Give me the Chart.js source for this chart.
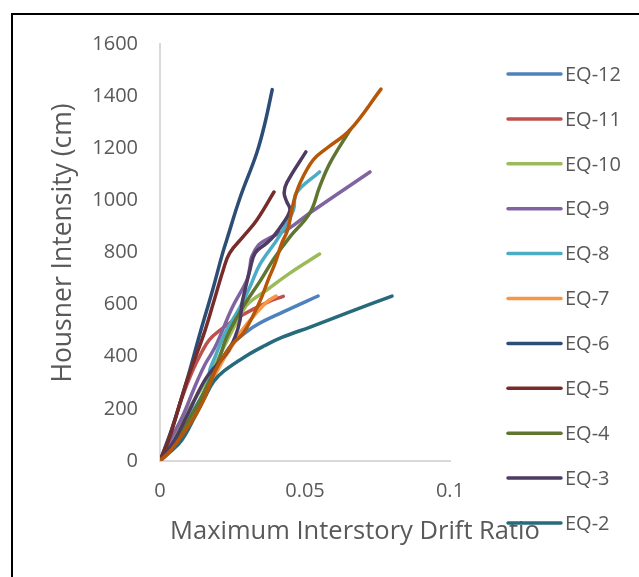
<!DOCTYPE html>
<html>
<head>
<meta charset="utf-8">
<script src="https://cdn.jsdelivr.net/npm/chart.js@4"></script>
<style>
	html, body { margin: 0; padding: 0; background: #fff; }
	#wrap { position: relative; width: 639px; height: 577px; overflow: hidden; }
	#frame { position: absolute; left: 11px; top: 13px; width: 700px; height: 700px;
		border-left: 2px solid #000; border-top: 2px solid #000; pointer-events: none; }
</style>
</head>
<body>
<div id="wrap">
	<canvas id="chart" width="639" height="577"></canvas>
	<div id="frame"></div>
</div>
<script>
(function() {
	'use strict';

	// Series: [drift ratio, Housner intensity (cm)]
	var EQ12 = [[0,0],[0.005,70],[0.01,160],[0.015,260],[0.019,340],[0.024,437],[0.0276,476],[0.0333,522],[0.0425,572],[0.0545,633]];
	var EQ11 = [[0,0],[0.004,120],[0.0075,240],[0.011,340],[0.0145,420],[0.017,465],[0.0205,500],[0.0276,555],[0.0368,608],[0.0425,632]];
	var EQ10 = [[0,0],[0.005,90],[0.01,200],[0.015,290],[0.019,370],[0.0235,470],[0.0287,579],[0.031,610],[0.0368,656],[0.0448,721],[0.055,794]];
	var EQ9  = [[0,0],[0.003,70],[0.0077,170],[0.012,285],[0.0155,370],[0.019,437],[0.025,591],[0.030,695],[0.031,745],[0.0316,783],[0.034,829],[0.0368,850],[0.0448,895],[0.0517,952],[0.0724,1109]];
	var EQ8  = [[0,0],[0.005,80],[0.01,170],[0.014,240],[0.0166,300],[0.0172,350],[0.019,400],[0.0224,490],[0.0276,591],[0.031,668],[0.0345,755],[0.041,860],[0.046,963],[0.047,1028],[0.055,1109]];
	var EQ7  = [[0,0],[0.005,70],[0.01,160],[0.015,250],[0.0185,320],[0.0218,388],[0.024,426],[0.0276,491],[0.032,552],[0.0368,610],[0.040,633]];
	var EQ6  = [[0,0],[0.004,120],[0.0093,310],[0.0138,490],[0.018,650],[0.0214,790],[0.023,848],[0.0276,1010],[0.0333,1180],[0.0362,1297],[0.0387,1425]];
	var EQ5  = [[0,0],[0.003,80],[0.0075,245],[0.0097,322],[0.0149,480],[0.0184,606],[0.0218,733],[0.024,798],[0.0286,860],[0.0334,925],[0.0393,1032]];
	var EQ4  = [[0,0],[0.005,70],[0.01,160],[0.015,260],[0.02,380],[0.023,476],[0.0286,591],[0.0345,690],[0.0395,780],[0.0448,860],[0.0517,952],[0.055,1051],[0.0586,1143],[0.0655,1270]];
	var EQ3  = [[0,0],[0.005,80],[0.01,190],[0.016,320],[0.023,414],[0.0259,476],[0.0276,541],[0.0283,606],[0.0293,656],[0.031,733],[0.0328,798],[0.0368,836],[0.039,860],[0.0425,913],[0.0448,963],[0.0437,995],[0.0428,1028],[0.0437,1067],[0.0503,1186]];
	var EQ2  = [[0,0],[0.003,30],[0.0075,80],[0.012,170],[0.0155,245],[0.0185,305],[0.022,345],[0.03,405],[0.036,442],[0.042,474],[0.052,515],[0.065,570],[0.08,633]];
	var EQ1  = [[0,0],[0.004,45],[0.0086,115],[0.0125,180],[0.0155,245],[0.019,345],[0.0218,400],[0.0255,455],[0.0287,490],[0.0322,560],[0.0351,630],[0.0373,695],[0.0397,759],[0.042,836],[0.044,886],[0.046,990],[0.0483,1067],[0.0528,1155],[0.0576,1201],[0.0655,1270],[0.0762,1427]];

	var seriesNames = ['EQ-12', 'EQ-11', 'EQ-10', 'EQ-9', 'EQ-8', 'EQ-7', 'EQ-6', 'EQ-5', 'EQ-4', 'EQ-3', 'EQ-2', 'EQ-1'];
	var seriesData  = [EQ12, EQ11, EQ10, EQ9, EQ8, EQ7, EQ6, EQ5, EQ4, EQ3, EQ2, EQ1];
	var legendNames = ['EQ-12', 'EQ-11', 'EQ-10', 'EQ-9', 'EQ-8', 'EQ-7', 'EQ-6', 'EQ-5', 'EQ-4', 'EQ-3', 'EQ-2'];
	var colors = ['#4F81BD', '#C0504D', '#9BBB59', '#8064A2', '#4BACC6', '#F79646',
		'#2C4D75', '#772C2A', '#5F7530', '#4D3B62', '#276A7C', '#B65708'];

	var xTicks = [0, 0.05, 0.1];
	var yTicks = [0, 200, 400, 600, 800, 1000, 1200, 1400, 1600];
	var xTitle = 'Maximum Interstory Drift Ratio';
	var yTitle = 'Housner Intensity (cm)';

	var FONT = '"Open Sans", sans-serif';
	var TEXT = '#595959';
	var AXIS = '#D9D9D9';

	var datasets = seriesData.map(function(rows, i) {
		return {
			label: seriesNames[i],
			data: rows.map(function(r) { return { x: r[0], y: r[1] }; }),
			borderColor: colors[i],
			backgroundColor: colors[i],
			borderWidth: 3.5,
			borderCapStyle: 'round',
			borderJoinStyle: 'round',
			showLine: true,
			pointRadius: 0,
			tension: 0.4,
			order: seriesNames.length - i
		};
	});

	// Titles and legend drawn at fixed spots to match the original layout
	var decor = {
		id: 'decor',
		afterDraw: function(chart) {
			var ctx = chart.ctx;
			ctx.save();
			ctx.fillStyle = TEXT;
			ctx.font = '25.5px ' + FONT;
			ctx.textAlign = 'center';
			ctx.textBaseline = 'middle';
			ctx.fillText(xTitle, 355, 532);

			ctx.save();
			ctx.font = '26.5px ' + FONT;
			ctx.translate(63, 243);
			ctx.rotate(-Math.PI / 2);
			ctx.fillText(yTitle, 0, 0);
			ctx.restore();

			ctx.font = '20px ' + FONT;
			ctx.textAlign = 'left';
			ctx.lineCap = 'round';
			ctx.lineWidth = 3.5;
			legendNames.forEach(function(name, i) {
				var y = 74 + i * 44.9;
				ctx.strokeStyle = colors[seriesNames.indexOf(name)];
				ctx.beginPath();
				ctx.moveTo(508, y);
				ctx.lineTo(561, y);
				ctx.stroke();
				ctx.fillText(name, 565, y + 1);
			});
			ctx.restore();
		}
	};

	new Chart(document.getElementById('chart'), {
		type: 'scatter',
		data: { datasets: datasets },
		plugins: [decor],
		options: {
			responsive: false,
			animation: false,
			layout: { padding: { left: 0, top: 44, right: 189, bottom: 0 } },
			plugins: {
				legend: { display: false },
				tooltip: { enabled: false }
			},
			scales: {
				x: {
					type: 'linear',
					min: 0,
					max: 0.1,
					afterFit: function(s) { s.height = 116; },
					afterBuildTicks: function(s) { s.ticks = xTicks.map(function(v) { return { value: v }; }); },
					grid: { display: false, drawTicks: false },
					border: { color: AXIS, width: 2 },
					ticks: {
						color: TEXT,
						padding: 18,
						maxRotation: 0,
						font: { family: FONT, size: 20 },
						callback: function(v) { return String(v); }
					}
				},
				y: {
					type: 'linear',
					min: 0,
					max: 1600,
					afterFit: function(s) { s.width = 160; },
					afterBuildTicks: function(s) { s.ticks = yTicks.map(function(v) { return { value: v }; }); },
					grid: { display: false, drawTicks: false },
					border: { color: AXIS, width: 2 },
					ticks: {
						color: TEXT,
						padding: 22,
						font: { family: FONT, size: 20 },
						callback: function(v) { return String(v); }
					}
				}
			}
		}
	});
})();
</script>
</body>
</html>
